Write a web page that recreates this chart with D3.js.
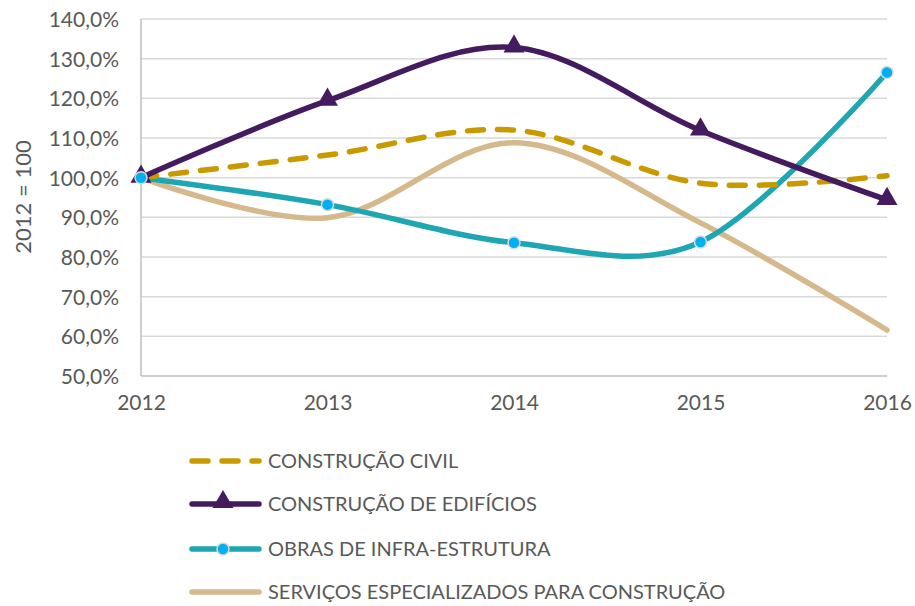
<!doctype html>
<html>
<head>
<meta charset="UTF-8">
<title>Construção - índice</title>
<script src="https://d3js.org/d3.v7.min.js"></script>
<style>
  body { margin: 0; background: #fff; }
  text { font-family: "Lato", "Open Sans", sans-serif; fill: #595959; }
</style>
</head>
<body>
<svg id="chart" width="915" height="606"></svg>
<script>
// data
var years = ["2012", "2013", "2014", "2015", "2016"];
var yTicks = [50, 60, 70, 80, 90, 100, 110, 120, 130, 140];
var civil = [100, 105.7, 112, 98.6, 100.5];
var edificios = [100, 119.4, 132.8, 111.9, 94.4];
var infra = [100, 93.2, 83.6, 83.8, 126.5];
var servicos = [100, 89.9, 108.8, 88.6, 61.6];

var seriesNames = ["CONSTRUÇÃO CIVIL", "CONSTRUÇÃO DE EDIFÍCIOS", "OBRAS DE INFRA-ESTRUTURA", "SERVIÇOS ESPECIALIZADOS PARA CONSTRUÇÃO"];
var seriesValues = [civil, edificios, infra, servicos];
var seriesColors = ["#c99a00", "#451b5f", "#1ea6b2", "#d5b98c"];

var svg = d3.select("#chart");

var x = d3.scalePoint().domain(years).range([141, 887]);
var y = d3.scaleLinear().domain([50, 140]).range([376, 19]);

// gridlines
svg.append("g").selectAll("line").data(yTicks).enter().append("line")
    .attr("x1", 141).attr("x2", 887)
    .attr("y1", function (d) { return y(d); })
    .attr("y2", function (d) { return y(d); })
    .attr("stroke", function (d) { return d === 50 ? "#bfbfbf" : "#d9d9d9"; })
    .attr("stroke-width", 1.5);

// left axis line
svg.append("line")
    .attr("x1", 141).attr("x2", 141).attr("y1", y(140)).attr("y2", y(50))
    .attr("stroke", "#bfbfbf").attr("stroke-width", 1.5);

// y axis labels
var yAxis = d3.axisLeft(y).tickValues(yTicks).tickSize(0).tickPadding(22)
    .tickFormat(function (d) { return d.toFixed(1).replace(".", ",") + "%"; });
var gy = svg.append("g").attr("transform", "translate(141,0)").call(yAxis);
gy.select(".domain").remove();
gy.selectAll("text").style("font-size", "21px").attr("fill", "#595959").attr("dy", "0.35em");

// x axis labels
var xAxis = d3.axisBottom(x).tickSize(0).tickPadding(19);
var gx = svg.append("g").attr("transform", "translate(0,376)").call(xAxis);
gx.select(".domain").remove();
gx.selectAll("text").style("font-size", "21px").attr("fill", "#595959");

// y title
svg.append("text")
    .attr("transform", "translate(31,197) rotate(-90)")
    .attr("text-anchor", "middle")
    .style("font-size", "22px")
    .text("2012 = 100");

var line = d3.line()
    .x(function (d, i) { return x(years[i]); })
    .y(function (d) { return y(d); })
    .curve(d3.curveCatmullRom.alpha(0));

// draw order: serviços at the bottom, edifícios on top
var order = [3, 2, 0, 1];
order.forEach(function (k) {
    var p = svg.append("path")
        .datum(seriesValues[k])
        .attr("d", line)
        .attr("fill", "none")
        .attr("stroke", seriesColors[k])
        .attr("stroke-width", 5.5)
        .attr("stroke-linecap", "round")
        .attr("stroke-linejoin", "round");
    if (k === 0) p.attr("stroke-dasharray", "16,14");
});

// markers
var tri = d3.symbol().type(d3.symbolTriangle).size(190);
svg.append("g").selectAll("path").data(edificios).enter().append("path")
    .attr("d", tri)
    .attr("transform", function (d, i) { return "translate(" + x(years[i]) + "," + (y(d) - 1) + ")"; })
    .attr("fill", "#451b5f");

svg.append("g").selectAll("circle").data(infra).enter().append("circle")
    .attr("cx", function (d, i) { return x(years[i]); })
    .attr("cy", function (d) { return y(d); })
    .attr("r", 6)
    .attr("fill", "#00b0f0")
    .attr("stroke", "#d9d9d9")
    .attr("stroke-width", 1.5);

// legend
var legendY = [461, 504, 549, 592];
var leg = svg.append("g").selectAll("g").data(seriesNames).enter().append("g")
    .attr("transform", function (d, i) { return "translate(0," + legendY[i] + ")"; });

leg.append("line")
    .attr("x1", 192).attr("x2", 259).attr("y1", 0).attr("y2", 0)
    .attr("stroke", function (d, i) { return seriesColors[i]; })
    .attr("stroke-width", 5.5)
    .attr("stroke-linecap", "round")
    .attr("stroke-dasharray", function (d, i) { return i === 0 ? "16,14" : null; });

leg.append("text")
    .attr("x", 268).attr("y", 0).attr("dy", "0.35em")
    .style("font-size", "20px")
    .text(function (d) { return d; });

// legend markers
svg.append("path").attr("d", tri)
    .attr("transform", "translate(223," + (legendY[1] - 2) + ")")
    .attr("fill", "#451b5f");
svg.append("circle").attr("cx", 223).attr("cy", legendY[2]).attr("r", 6)
    .attr("fill", "#00b0f0").attr("stroke", "#d9d9d9").attr("stroke-width", 1.5);
</script>
</body>
</html>
